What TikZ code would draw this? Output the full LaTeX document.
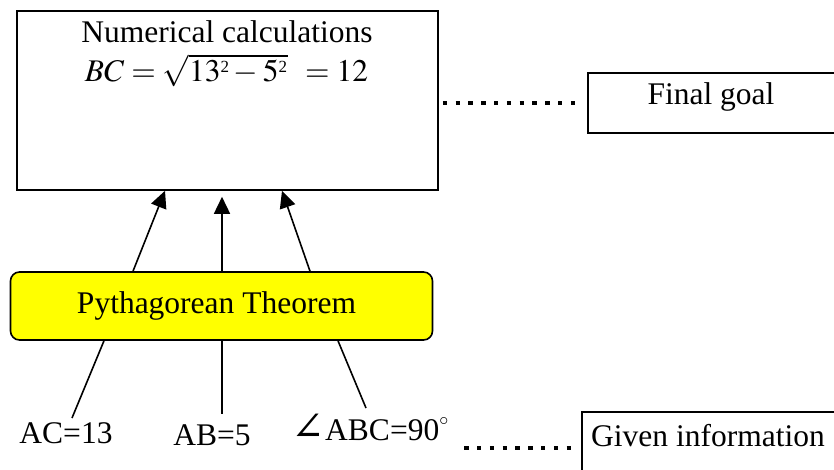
\documentclass[tikz,border=0pt]{standalone}
\usepackage{mathptmx}
\usepackage{fontspec}
\setmainfont{Liberation Serif}
\newfontfamily\dejavuser{DejaVu Serif}
\newcommand{\supsq}{^{\mbox{\fontsize{17}{17}\selectfont 2}}}
\usetikzlibrary{arrows.meta,calc}
\begin{document}
\begin{tikzpicture}[x=1pt,y=-1pt,
  every node/.style={font=\fontsize{31.5}{36}\selectfont, inner sep=0pt},
  box/.style={draw, line width=1.6pt, rectangle},
  ybox/.style={draw, line width=1.6pt, rectangle, rounded corners=9pt, fill={rgb,255:red,255;green,255;blue,0}},
  txt/.style={anchor=base},
  arr/.style={line width=1.6pt, -{Triangle[length=17pt,width=16pt]}},
  ln/.style={line width=1.6pt},
  dotline/.style={line width=4.4pt, dash pattern=on 4.4pt off 8.4pt}]
\useasboundingbox (0,0) rectangle (834,470);
\clip (0,0) rectangle (834,470);
% boxes
\node[box, minimum width=421pt, minimum height=179pt] (calc) at (227.5,100.5) {};
\node[box, minimum width=252pt, minimum height=60pt] (final) at (714,103) {};
\node[box, minimum width=258pt, minimum height=68pt] (given) at (711,446) {};
\node[ybox, minimum width=422pt, minimum height=68pt] (pyth) at (221.5,306) {};
% texts
\node[txt] (calct) at (227,43) {Numerical calculations};
\node[txt] (calcm) at (226.5,82) {$BC=\sqrt{13\supsq-5\supsq}\;\,=12$};
\node[txt] (finalt) at (711,105) {Final goal};
\node[txt] (givent) at (708,446) {Given information};
\node[txt] (pytht) at (216.5,313) {Pythagorean Theorem};
\node[txt] (ac) at (66,443) {AC=13};
\node[txt] (ab) at (212,445) {AB=5};
\node[txt] (ang) at (370,440) {{\dejavuser\fontsize{40}{40}\selectfont ∠}ABC=90\raisebox{0.45em}{\fontsize{18}{20}\selectfont$\circ$}};
% arrows up
\draw[arr] ($(pyth.north)+(-88.5,0)$) -- ($(calc.south)+(-62.5,0)$);
\draw[arr] ($(pyth.north)+(0.5,0)$) -- ($(calc.south)+(-5.5,6)$);
\draw[arr] ($(pyth.north)+(88.5,0)$) -- ($(calc.south)+(54.5,0)$);
% lines down
\coordinate (acend) at (72,418);
\coordinate (abend) at (222,414);
\coordinate (angend) at (366,408);
\draw[ln] ($(pyth.south)+(-117.5,0)$) -- (acend);
\draw[ln] ($(pyth.south)+(0.5,0)$) -- (abend);
\draw[ln] ($(pyth.south)+(116.5,0)$) -- (angend);
% dotted connectors
\draw[dotline] ($(calc.east |- final.west)+(4,0)$) -- ($(final.west)+(-6,0)$);
\draw[dotline] ($(given.west)+(-117,2)$) -- ($(given.west)+(-5,2)$);
\end{tikzpicture}
\end{document}
